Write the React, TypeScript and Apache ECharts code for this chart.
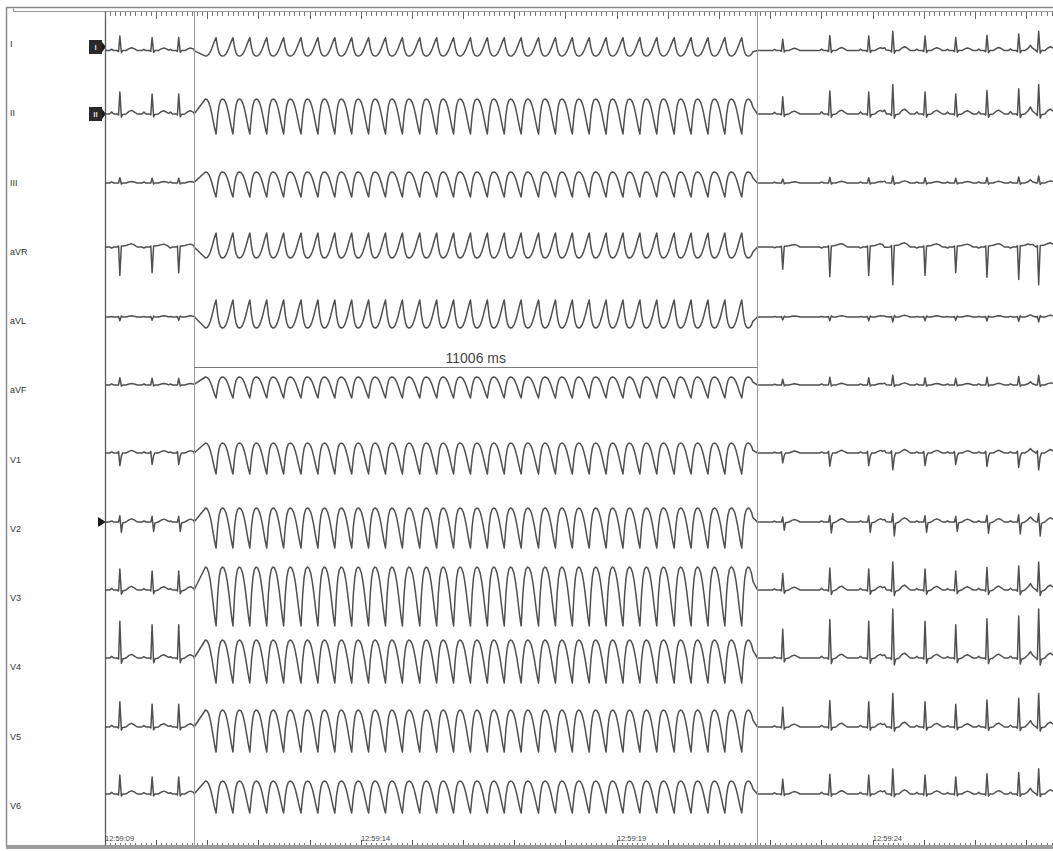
import React, { useEffect, useRef } from "react";
import * as echarts from "echarts";

// ---------- data ----------
const leadNames = ["I", "II", "III", "aVR", "aVL", "aVF", "V1", "V2", "V3", "V4", "V5", "V6"];
const timeLabels = ["12:59:09", "12:59:14", "12:59:19", "12:59:24"];
const totalSeconds = 18.52;
const tachyStart = 1.74;
const tachyEnd = 12.746;
const durationLabel = "11006 ms";

// sinus beats (R-peak times, s) and their relative gains
const preBeats = [0.29, 0.92, 1.44];
const preGain = [1.05, 0.95, 0.95];
const postBeats = [13.24, 14.16, 14.92, 15.39, 16.02, 16.62, 17.23, 17.85, 18.24];
const postGain = [0.82, 1.1, 1.05, 1.4, 1.05, 0.95, 1.12, 1.2, 1.4];

// tachycardia complexes (time of the sharp extreme of each cycle, s)
const tachyBeats = [
  2.17, 2.5, 2.83, 3.16, 3.49, 3.83, 4.16, 4.49, 4.82, 5.15, 5.48, 5.81, 6.15, 6.48, 6.81, 7.14,
  7.47, 7.8, 8.13, 8.47, 8.8, 9.13, 9.46, 9.79, 10.12, 10.45, 10.78, 11.12, 11.45, 11.78, 12.11, 12.44,
];

// sinus beat template: offsets from R peak (s) and per-lead amplitudes (mm)
const sinusDt = [-0.2, -0.16, -0.12, -0.05, -0.025, 0, 0.03, 0.055, 0.12, 0.18, 0.23, 0.28, 0.34];
const sinusI = [0, 1.5, 0, 0, -1, 15, -2, 0, 0, 2, 3, 2, 0];
const sinusII = [0, 2, 0, 0, -1, 21, -3, -0.5, 0, 2.5, 3.5, 2, 0];
const sinusIII = [0, 1, 0, 0, 0, 5, -1, 0, 0, 1, 1.5, 1, 0];
const sinusAVR = [0, -1, 0, 0, 1, -27, 1, 1, 1.5, 2.5, 3, 2, 0];
const sinusAVL = [0, 0.5, 0, 0, 0.5, -3.5, 1, 0, 0, 0.8, 1.2, 0.8, 0];
const sinusAVF = [0, 1, 0, 0, 0, 7, -1, 0, 0, 1, 1.5, 1, 0];
const sinusV1 = [0, 1, 0, 0, 1.5, -12, -3, 0, 0, 1.5, 2.5, 1.5, 0];
const sinusV2 = [0, 1, 0, 0, 0, 6, -10, -1, 0, 2, 3, 2, 0];
const sinusV3 = [0, 1.5, 0, 0, -1, 20, -4, -1, 0, 2.5, 3.5, 2, 0];
const sinusV4 = [0, 1.5, 0, 0, -1, 35, -5, -1, 0, 2.5, 3.5, 2, 0];
const sinusV5 = [0, 1.5, 0, 0, -1, 24, -3, -0.5, 0, 2.5, 3.5, 2, 0];
const sinusV6 = [0, 1.5, 0, 0, -1, 18, -2, 0, 0, 2, 3, 2, 0];
const sinusTemplates = [sinusI, sinusII, sinusIII, sinusAVR, sinusAVL, sinusAVF, sinusV1, sinusV2, sinusV3, sinusV4, sinusV5, sinusV6];

// tachycardia cycle form (fraction of cycle -> 0 sharp extreme, 1 rounded extreme)
const tachyPhase = [0, 0.04, 0.1, 0.18, 0.27, 0.37, 0.47, 0.57, 0.66, 0.75, 0.83, 0.9, 0.96, 1];
const tachyForm = [0, 0.22, 0.55, 0.82, 0.96, 1, 0.98, 0.9, 0.76, 0.57, 0.37, 0.2, 0.07, 0];
// per-lead values of sharp and rounded extremes (mm)
const tachySharp = [14, -20, -14, 14, 17, -13, -21, -26, -36, -25, -25, -19];
const tachyRound = [-6, 15, 11, -11, -11, 8, 10, 14, 23, 18, 17, 13];

// ---------- layout ----------
const W = 1053;
const H = 851;
const plotLeft = 105;
const rowBaselineY = [47, 114, 183, 247, 317, 385, 453, 522, 590, 658, 727, 794];
const labelY = [44, 113, 183, 252, 321, 390, 460, 529, 598, 667, 737, 806];
const FONT = "'Liberation Sans', Arial, sans-serif";
const TRACE = "#505050";

function interp(xs: number[], ys: number[], x: number) {
  if (x <= xs[0] || x >= xs[xs.length - 1]) return 0;
  for (let i = 1; i < xs.length; i++) {
    if (x <= xs[i]) {
      const f = (x - xs[i - 1]) / (xs[i] - xs[i - 1]);
      return ys[i - 1] + f * (ys[i] - ys[i - 1]);
    }
  }
  return 0;
}

function sinusSegment(from: number, to: number, beats: number[], gains: number[], tpl: number[]) {
  const times: number[] = [from, to];
  beats.forEach((tr) =>
    sinusDt.forEach((d) => {
      const t = +(tr + d).toFixed(4);
      if (t > from && t < to) times.push(t);
    })
  );
  const uniq = Array.from(new Set(times)).sort((a, b) => a - b);
  return uniq.map((t) => {
    let v = 0;
    beats.forEach((tr, j) => {
      v += gains[j] * interp(sinusDt, tpl, t - tr);
    });
    return [t, +v.toFixed(2)];
  });
}

function tachySegment(sharp: number, round: number) {
  const val = (s: number) => +(sharp + (round - sharp) * s).toFixed(2);
  const b = tachyBeats;
  const n = b.length;
  const pts: number[][] = [[tachyStart, 0]];
  const c0 = b[1] - b[0];
  tachyPhase.forEach((f, i) => {
    if (f >= 0.3) pts.push([b[0] - (1 - f) * c0, val(tachyForm[i])]);
  });
  for (let k = 0; k < n - 1; k++) {
    const cyc = b[k + 1] - b[k];
    for (let i = 1; i < tachyPhase.length; i++) {
      pts.push([b[k] + tachyPhase[i] * cyc, val(tachyForm[i])]);
    }
  }
  const cN = b[n - 1] - b[n - 2];
  tachyPhase.forEach((f, i) => {
    if (f > 0 && f <= 0.7) pts.push([b[n - 1] + f * cN, val(tachyForm[i])]);
  });
  pts.push([tachyEnd, 0]);
  return pts;
}

function leadData(i: number) {
  const tpl = sinusTemplates[i];
  return [
    ...sinusSegment(0, tachyStart, preBeats, preGain, tpl),
    ...tachySegment(tachySharp[i], tachyRound[i]),
    ...sinusSegment(tachyEnd, totalSeconds, postBeats, postGain, tpl),
  ];
}

function marker(y: number, label: string | null, x0: number) {
  const children: any[] = [];
  if (label) {
    children.push({ type: "rect", shape: { x: x0, y: y - 7, width: 13, height: 14 }, style: { fill: "#2a2a2a" } });
    children.push({
      type: "text",
      style: { x: x0 + 6.5, y: y, text: label, fill: "#ddd", font: `bold 8px ${FONT}`, align: "center", verticalAlign: "middle" },
    });
  }
  children.push({
    type: "polygon",
    shape: { points: [[x0 + (label ? 13 : 3), y - 5], [x0 + (label ? 13 : 3), y + 5], [plotLeft + 1, y]] },
    style: { fill: "#1a1a1a" },
  });
  return { type: "group", children };
}

export default function App() {
  const ref = useRef<HTMLDivElement>(null);

  useEffect(() => {
    if (!ref.current) return;
    const chart = echarts.init(ref.current, null, { renderer: "svg", width: W, height: H });

    const grids: any[] = [{ left: plotLeft, right: 0, top: 12, bottom: H - 845 }];
    const xAxes: any[] = [
      {
        gridIndex: 0,
        type: "value",
        position: "bottom",
        min: 0,
        max: totalSeconds,
        interval: 1,
        axisLine: { show: false },
        axisTick: { show: true, inside: true, length: 5, lineStyle: { color: "#555", width: 1 } },
        minorTick: { show: true, splitNumber: 10, length: 2, lineStyle: { color: "#777", width: 1 } },
        splitLine: { show: false },
        axisLabel: {
          show: true,
          inside: true,
          margin: 3,
          align: "left",
          fontSize: 7.5,
          color: "#444",
          fontFamily: FONT,
          showMaxLabel: false,
          formatter: (v: number) => {
            const r = Math.round(v);
            if (Math.abs(v - r) > 1e-6 || r % 5 !== 0) return "";
            return timeLabels[r / 5] ?? "";
          },
        },
      },
      {
        gridIndex: 0,
        type: "value",
        position: "top",
        min: 0,
        max: totalSeconds,
        interval: 1,
        axisLine: { show: false },
        axisTick: { show: true, inside: true, length: 7, lineStyle: { color: "#666", width: 1 } },
        minorTick: { show: true, splitNumber: 10, length: 4, lineStyle: { color: "#777", width: 1 } },
        splitLine: { show: false },
        axisLabel: { show: false },
      },
    ];
    const yAxes: any[] = [
      {
        gridIndex: 0,
        type: "value",
        min: 0,
        max: 1,
        axisLine: { show: true, lineStyle: { color: "#5a5a5a", width: 1.3 } },
        axisTick: { show: false },
        axisLabel: { show: false },
        splitLine: { show: false },
      },
    ];
    const series: any[] = [
      {
        type: "line",
        xAxisIndex: 0,
        yAxisIndex: 0,
        data: [
          [0, 0.5],
          [totalSeconds, 0.5],
        ],
        showSymbol: false,
        lineStyle: { opacity: 0 },
        silent: true,
        markLine: {
          silent: true,
          symbol: ["none", "none"],
          label: { show: false },
          lineStyle: { color: "#9a9a9a", width: 1, type: "solid" },
          data: [{ xAxis: tachyStart }, { xAxis: tachyEnd }],
        },
      },
    ];

    leadNames.forEach((name, i) => {
      grids.push({ left: plotLeft, right: 0, top: rowBaselineY[i] - 55, height: 100 });
      xAxes.push({ gridIndex: i + 1, type: "value", min: 0, max: totalSeconds, show: false });
      yAxes.push({ gridIndex: i + 1, type: "value", min: -45, max: 55, show: false });
      const s: any = {
        name,
        type: "line",
        xAxisIndex: i + 2,
        yAxisIndex: i + 1,
        data: leadData(i),
        showSymbol: false,
        symbol: "none",
        lineStyle: { color: TRACE, width: 1.5, join: "round" },
        silent: true,
      };
      if (name === "aVF") {
        s.markLine = {
          silent: true,
          symbol: ["none", "none"],
          lineStyle: { color: "#7a7a7a", width: 1, type: "solid" },
          label: {
            show: true,
            position: "insideMiddleTop",
            distance: 2,
            formatter: durationLabel,
            fontSize: 14,
            color: "#444",
            fontFamily: FONT,
          },
          data: [[{ coord: [tachyStart, 18] }, { coord: [tachyEnd, 18] }]],
        };
      }
      series.push(s);
    });

    const graphics: any[] = [
      { type: "line", shape: { x1: 6, y1: 7.5, x2: W, y2: 7.5 }, style: { stroke: "#8a8a8a", lineWidth: 1.5 } },
      { type: "line", shape: { x1: 6.5, y1: 7, x2: 6.5, y2: 846 }, style: { stroke: "#8a8a8a", lineWidth: 1.5 } },
      { type: "line", shape: { x1: 13, y1: 11.5, x2: W, y2: 11.5 }, style: { stroke: "#9a9a9a", lineWidth: 1 } },
      { type: "line", shape: { x1: 13.5, y1: 8, x2: 13.5, y2: 12 }, style: { stroke: "#9a9a9a", lineWidth: 1 } },
      { type: "rect", shape: { x: 6, y: 845, width: W - 6, height: 4 }, style: { fill: "#9c9c9c" } },
      marker(rowBaselineY[0], "I", 89),
      marker(rowBaselineY[1], "II", 89),
      marker(rowBaselineY[7], null, 95),
    ];
    leadNames.forEach((name, i) => {
      graphics.push({
        type: "text",
        style: { x: 10, y: labelY[i], text: name, fill: "#333", font: `9px ${FONT}`, align: "left", verticalAlign: "middle" },
      });
    });

    chart.setOption({
      animation: false,
      backgroundColor: "#ffffff",
      grid: grids,
      xAxis: xAxes,
      yAxis: yAxes,
      series,
      graphic: graphics,
    });

    return () => chart.dispose();
  }, []);

  return (
    <div
      ref={ref}
      style={{ position: "absolute", left: 0, top: 0, width: W, height: H, background: "#fff" }}
    />
  );
}
